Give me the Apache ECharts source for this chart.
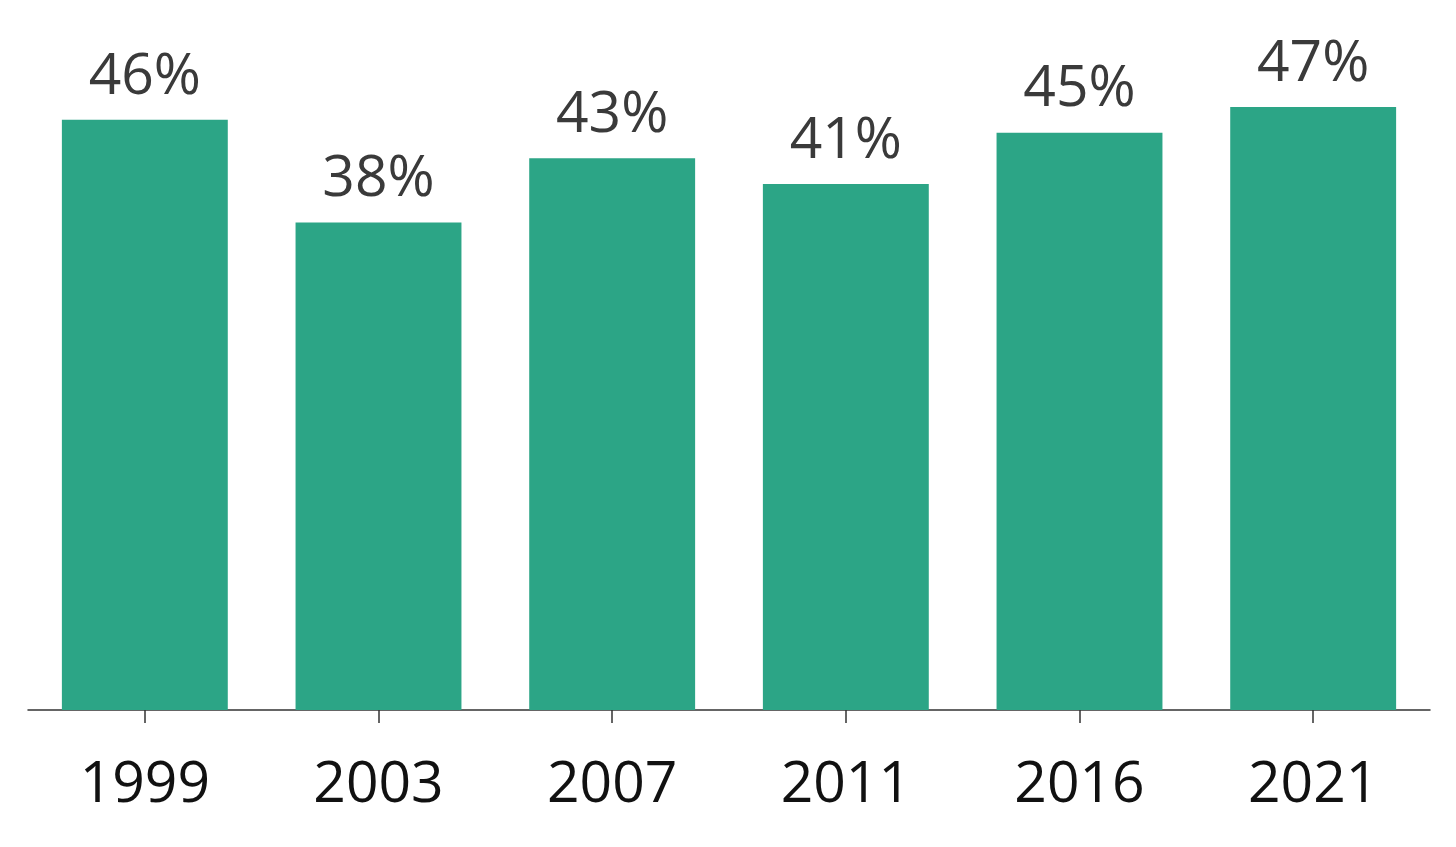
<!DOCTYPE html>
<html>
<head>
<meta charset="utf-8">
<style>
  html, body { margin: 0; padding: 0; background: #fff; }
  #chart { width: 1456px; height: 847px; }
</style>
<script src="https://cdn.jsdelivr.net/npm/echarts@6/dist/echarts.min.js"></script>
</head>
<body>
<div id="chart"></div>
<script>
var years = ['1999', '2003', '2007', '2011', '2016', '2021'];
var shares = [46, 38, 43, 41, 45, 47];

var chart = echarts.init(document.getElementById('chart'));
chart.setOption({
	animation: false,
	grid: {
		left: 28,
		right: 26,
		top: 68.5,
		bottom: 137,
		outerBoundsMode: 'none'
	},
	xAxis: {
		type: 'category',
		data: years,
		axisLine: { lineStyle: { color: '#333', width: 1.5 } },
		axisTick: { show: true, alignWithLabel: true, length: 13, lineStyle: { color: '#333', width: 1.5 } },
		axisLabel: {
			margin: 47,
			color: '#111',
			fontSize: 57,
			fontFamily: 'Open Sans'
		}
	},
	yAxis: {
		type: 'value',
		min: 0,
		max: 50,
		show: false,
		splitLine: { show: false }
	},
	series: [{
		type: 'bar',
		data: shares,
		barCategoryGap: '29%',
		itemStyle: { color: '#2ca586' },
		label: {
			show: true,
			position: 'top',
			distance: 14,
			formatter: '{c}%',
			color: '#3a3a3a',
			fontSize: 57,
			fontFamily: 'Open Sans'
		}
	}]
});
</script>
</body>
</html>
